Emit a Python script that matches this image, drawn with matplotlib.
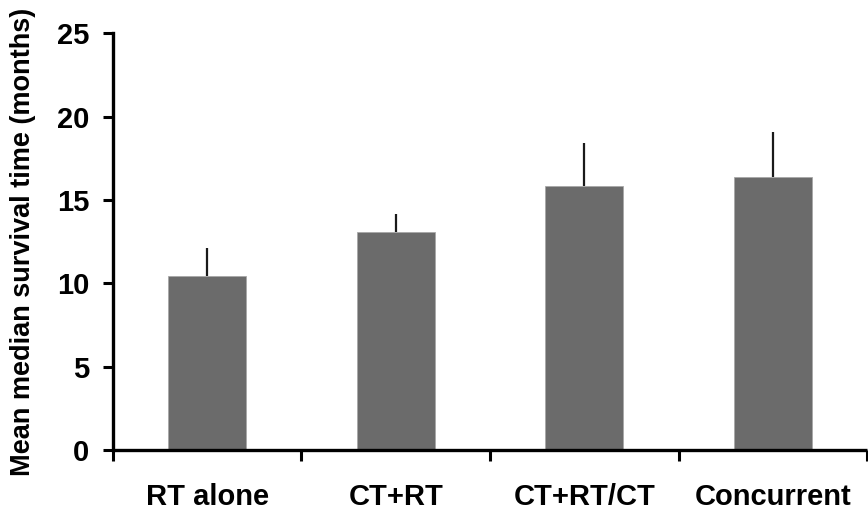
import matplotlib
matplotlib.use("Agg")
import matplotlib.pyplot as plt
import numpy as np

categories = ["RT alone", "CT+RT", "CT+RT/CT", "Concurrent"]
means = [10.46, 13.1, 15.83, 16.39]
upper = [12.12, 14.17, 18.4, 19.07]

plt.rcParams['font.family'] = ['Liberation Sans', 'DejaVu Sans']
plt.rcParams['font.weight'] = 'bold'

fig = plt.figure(figsize=(8.68, 5.13), dpi=100)
ax = fig.add_axes([0.130, 0.123, 0.869, 0.812])

x = np.arange(len(categories))
err = np.array(upper) - np.array(means)
ax.bar(x, means, width=0.415, color='#6b6b6b', edgecolor='#a8a8a8', linewidth=0.6, zorder=2)
ax.errorbar(x, means, yerr=[np.zeros_like(err), err], fmt='none', ecolor='#1a1a1a',
            elinewidth=1.6, capsize=0, zorder=1)

ax.set_xlim(-0.5, len(categories) - 0.5)
ax.set_ylim(0, 25)
ax.set_yticks([0, 5, 10, 15, 20, 25])
ax.set_xticks(np.arange(-0.5, len(categories), 1.0))
ax.set_xticklabels([])
ax.set_xticks(x, minor=True)
ax.set_xticklabels(categories, minor=True)
ax.tick_params(axis='x', which='minor', length=0, pad=24, labelsize=21)
ax.tick_params(axis='x', which='major', length=8, width=2.2, direction='out')
ax.tick_params(axis='y', length=7, width=2.2, direction='out', pad=10, labelsize=21)

for s in ['top', 'right']:
    ax.spines[s].set_visible(False)
for s in ['left', 'bottom']:
    ax.spines[s].set_linewidth(2.4)
ax.spines['bottom'].set_capstyle('butt')

ax.set_ylabel("Mean median survival time (months)", fontsize=19.5, fontweight='bold', labelpad=15)

fig.savefig("out.png", dpi=100)
